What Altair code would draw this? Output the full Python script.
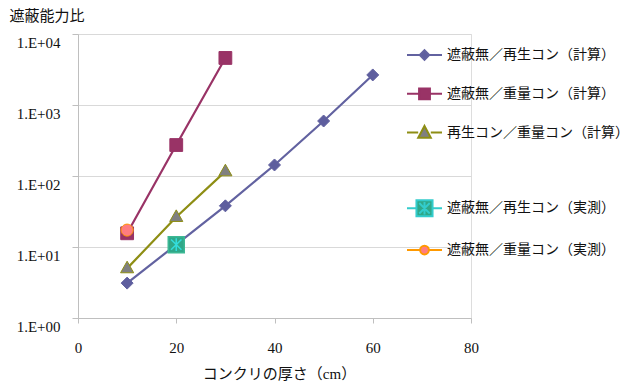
import altair as alt
import pandas as pd

# ---- data ----
series = ["遮蔽無／再生コン（計算）", "遮蔽無／重量コン（計算）", "再生コン／重量コン（計算）",
          " ", "遮蔽無／再生コン（実測）", "遮蔽無／重量コン（実測）"]

s1_x = [10, 20, 30, 40, 50, 60]
s1_y = [3.1, 10.8, 38, 143, 595, 2650]
s2_x = [10, 20, 30]
s2_y = [15.6, 273, 4600]
s3_x = [10, 20, 30]
s3_y = [5.0, 26.4, 116]
s4_x = [20]
s4_y = [10.8]
s5_x = [10]
s5_y = [17.3]

x_ticks = [0, 20, 40, 60, 80]
y_ticks = [1, 10, 100, 1000, 10000]

# ---- styles ----
line_colors = ["#6262A0", "#993366", "#8E8E14", "transparent", "#33CCCC", "#FF9900"]
fill_colors = ["#5E5E9E", "#993366", "#808080", "transparent", "#2FA889", "#FF7C80"]
legend_paths = [
    "M-1,0H-0.27M0.27,0H1M0,-0.27L0.27,0L0,0.27L-0.27,0Z",
    "M-1,0H-0.31M0.31,0H1M-0.31,-0.31H0.31V0.31H-0.31Z",
    "M-1,0H-0.36M0.36,0H1M0,-0.38L0.36,0.3L-0.36,0.3Z",
    "M0,0",
    "M-1,0H-0.46M0.46,0H1M-0.46,-0.46H0.46V0.46H-0.46Z"
    "M0,-0.36V0.36M-0.3,-0.3L0.3,0.3M-0.3,0.3L0.3,-0.3",
    "M-1,0H-0.25M0.25,0H1M0.25,0A0.25,0.25 0 1 1 -0.25,0A0.25,0.25 0 1 1 0.25,0Z",
]
marker_specs = [
    # series index, shape path (unit box), fill, stroke
    (0, "M0,-0.75L0.75,0L0,0.75L-0.75,0Z", "#5E5E9E", "#6262A0"),
    (1, "M-0.8,-0.8H0.8V0.8H-0.8Z", "#993366", "#993366"),
    (2, "M0,-0.9L0.82,0.55L-0.82,0.55Z", "#808080", "#8E8E14"),
    (4, "M-1,-1H1V1H-1Z", "#2FA889", "#3DB894"),
    (4, "M0,-0.8V0.8M-0.65,-0.65L0.65,0.65M-0.65,0.65L0.65,-0.65", "transparent", "#33DDDD"),
    (5, "M0.75,0A0.75,0.75 0 1 1 -0.75,0A0.75,0.75 0 1 1 0.75,0Z", "#FF7C80", "#FF9900"),
]

rows = []
for name, xs, ys in [(series[0], s1_x, s1_y), (series[1], s2_x, s2_y), (series[2], s3_x, s3_y),
                     (series[4], s4_x, s4_y), (series[5], s5_x, s5_y)]:
    for xv, yv in zip(xs, ys):
        rows.append({"series": name, "x": xv, "y": yv})
df = pd.DataFrame(rows)

FONT = "'Liberation Serif', 'Noto Sans CJK JP', serif"

X = alt.X("x:Q", scale=alt.Scale(domain=[0, 80], nice=False),
          axis=alt.Axis(values=x_ticks, grid=False, title="コンクリの厚さ（cm）",
                        tickSize=5, labelPadding=17, labelFontSize=15, labelFont=FONT,
                        labelFlush=False,
                        labelColor="#111", domainColor="#BFBFBF", tickColor="#BFBFBF",
                        titleFont=FONT, titleFontSize=15, titleFontWeight="normal",
                        titleColor="#111", titleX=201, titleY=55, titleBaseline="middle",
                        titleAlign="center"))
Y = alt.Y("y:Q", scale=alt.Scale(type="log", domain=[1, 10000], nice=False),
          axis=alt.Axis(values=y_ticks, grid=True, gridColor="#D9D9D9",
                        labelExpr="'1.E+0' + round(log(datum.value) / LN10)",
                        labelFlush=False,
                        tickSize=6, labelPadding=12, labelOffset=8, labelFontSize=15,
                        labelFont=FONT, labelColor="#111", domainColor="#BFBFBF",
                        tickColor="#BFBFBF", title="遮蔽能力比", titleAngle=0,
                        titleAlign="left", titleBaseline="middle", titleX=-69, titleY=-19,
                        titleFont=FONT, titleFontSize=15, titleFontWeight="normal",
                        titleColor="#111"))

stroke_scale = alt.Scale(domain=series, range=line_colors)
fill_scale = alt.Scale(domain=series, range=fill_colors)
shape_scale = alt.Scale(domain=series, range=legend_paths)

base = alt.Chart(df)

leg = alt.Legend(orient="none", legendX=328, legendY=2.5, title=None, symbolSize=1225,
                 symbolStrokeWidth=2, labelFontSize=14, labelFont=FONT, labelColor="#111",
                 labelOffset=4, rowPadding=10.8, padding=0, labelLimit=400)

# invisible layer that only carries the legend
legend_layer = base.mark_point(filled=True, opacity=1, strokeWidth=2, size=0).encode(
    x=X, y=Y,
    fill=alt.Fill("series:N", scale=fill_scale, legend=leg),
    stroke=alt.Stroke("series:N", scale=stroke_scale, legend=leg),
    shape=alt.Shape("series:N", scale=shape_scale, legend=leg),
)

lines = base.mark_line(strokeWidth=2.2).encode(
    x=X, y=Y,
    stroke=alt.Stroke("series:N", scale=stroke_scale, legend=leg),
    order="x:Q",
)

layers = [legend_layer, lines]
for idx, path, fc, sc in marker_specs:
    layers.append(
        base.transform_filter(alt.datum.series == series[idx])
        .mark_point(shape=path, size=256, filled=True, fill=fc, stroke=sc,
                    strokeWidth=1.5 if idx == 4 else 1, opacity=1)
        .encode(x=X, y=Y)
    )

chart = alt.layer(*layers).properties(
    width=393, height=284,
    autosize=alt.AutoSizeParams(type="none"),
    padding={"left": 70, "top": 26, "right": 161, "bottom": 80},
).configure_view(stroke=None).configure(font=FONT)

chart.save("out.html", embed_options={"renderer": "svg", "actions": False})
